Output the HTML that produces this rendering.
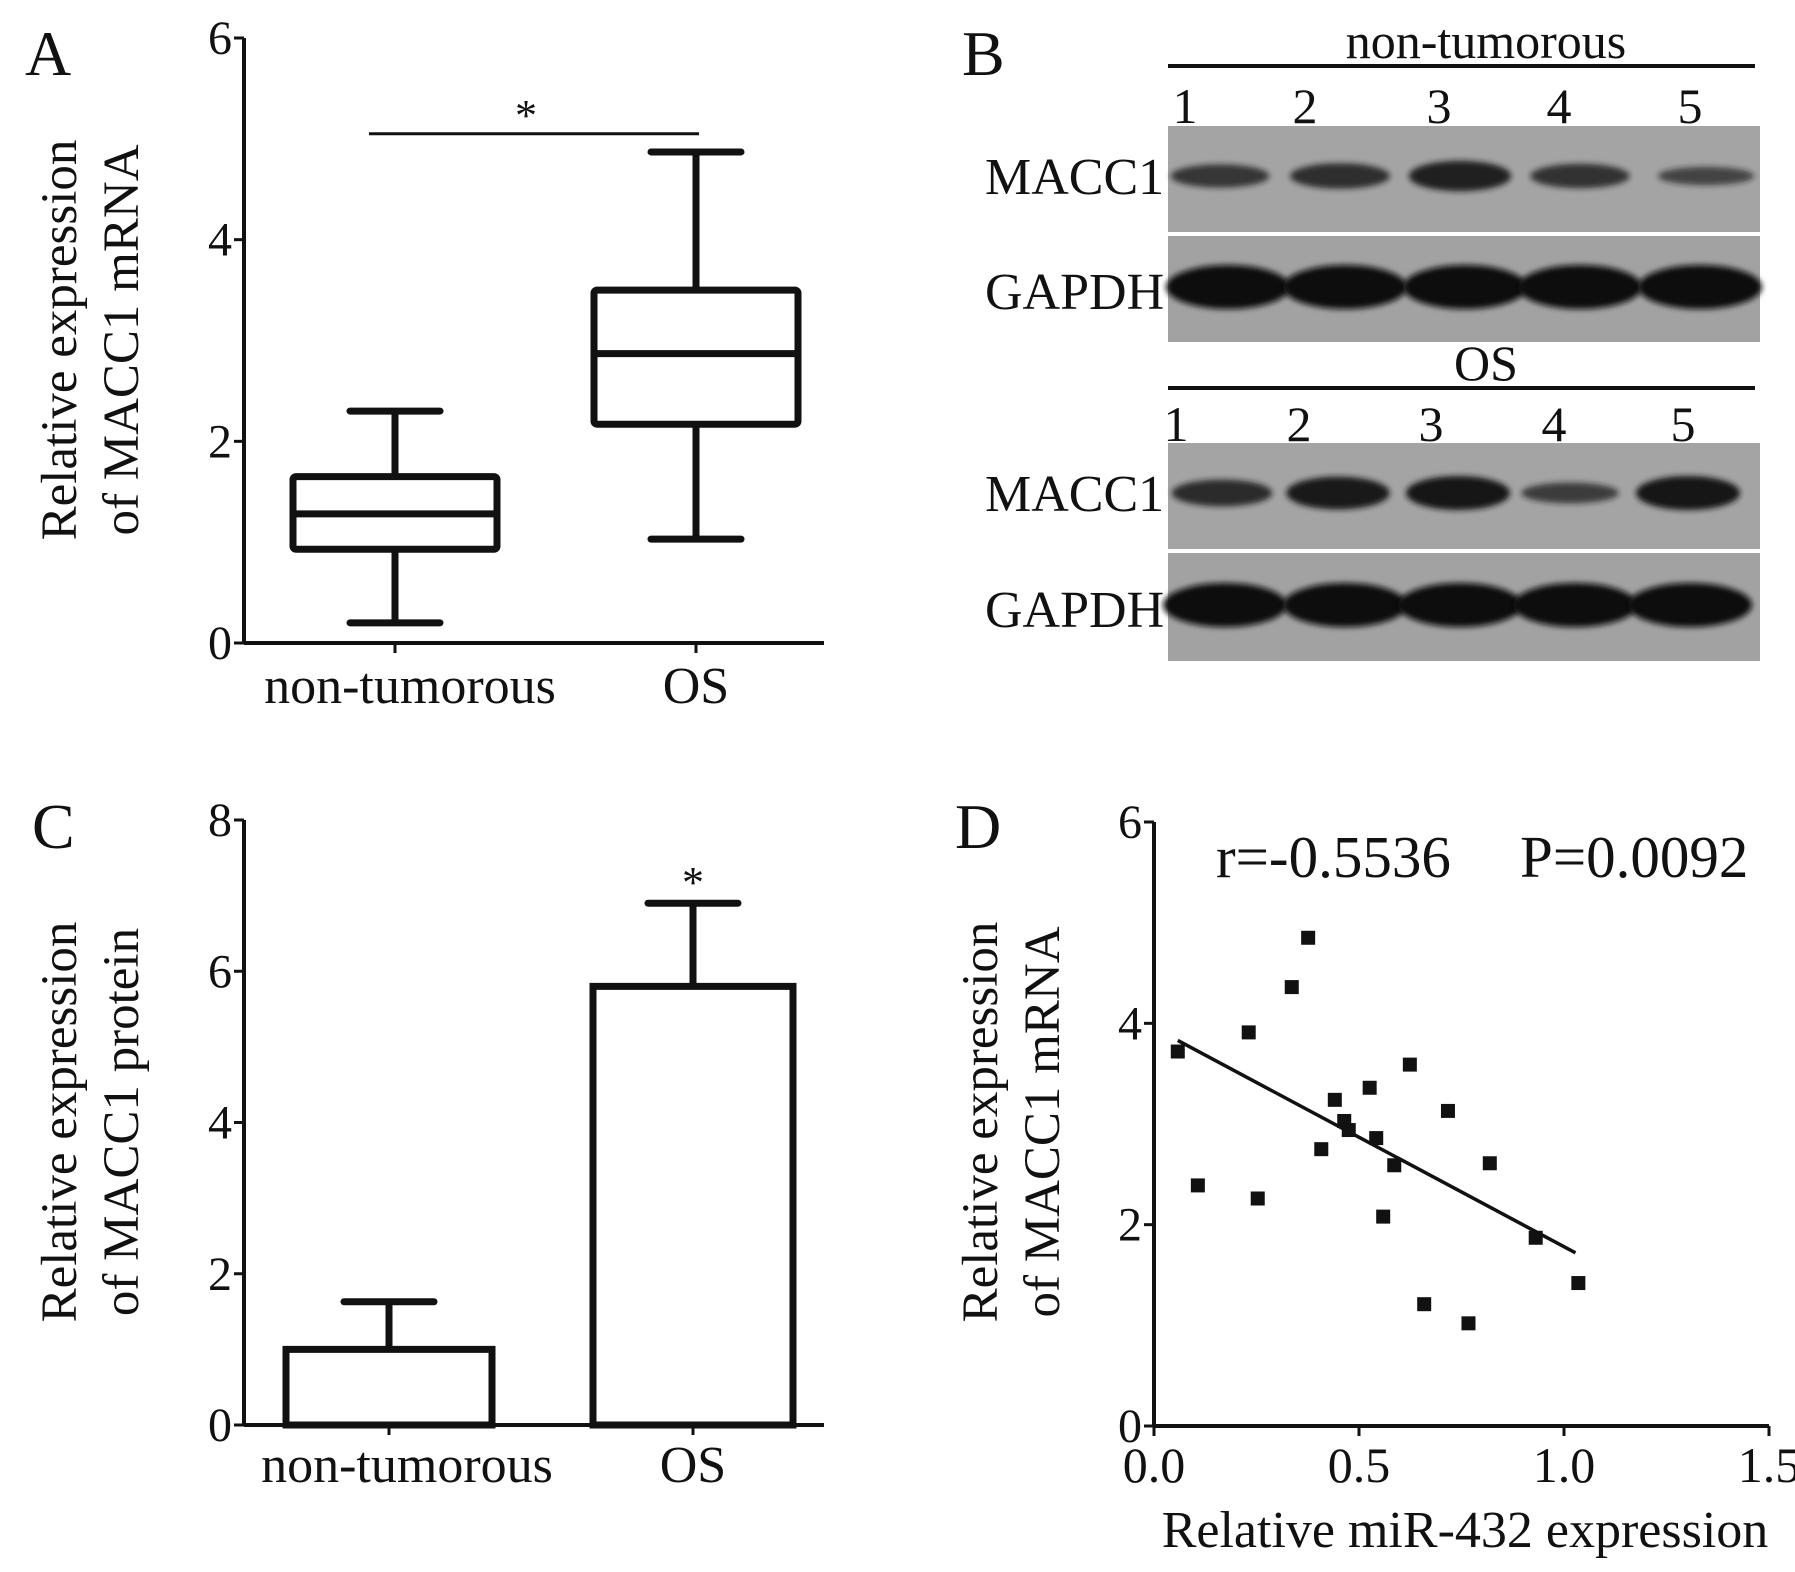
<!DOCTYPE html>
<html><head><meta charset="utf-8"><style>
html,body{margin:0;padding:0;background:#fff}
svg{display:block}
text{font-family:"Liberation Serif",serif;fill:#111}
</style></head><body>
<svg id="fig" width="1795" height="1572" viewBox="0 0 1795 1572">
<defs>
<filter id="blur" x="-20%" y="-50%" width="140%" height="200%"><feGaussianBlur stdDeviation="3"/></filter>
</defs>
<g id="panelA"></g>
<g id="panelB"></g>
<g id="panelC"></g>
<g id="panelD"></g>
</svg>
<script>
const NS='http://www.w3.org/2000/svg';
// Panel A data
const boxCategories=['non-tumorous','OS'];
const boxWhiskerLow=[0.2,1.03];
const boxQ1=[0.93,2.17];
const boxMedian=[1.28,2.87];
const boxQ3=[1.65,3.5];
const boxWhiskerHigh=[2.3,4.87];
const boxTicks=[0,2,4,6];
// Panel C data
const barCategories=['non-tumorous','OS'];
const barValues=[1.0,5.8];
const barErrors=[0.63,1.1];
const barTicks=[0,2,4,6,8];
// Panel D data
const scatterX=[0.058,0.107,0.231,0.253,0.336,0.376,0.408,0.441,0.464,0.475,0.526,0.542,0.559,0.586,0.624,0.659,0.717,0.767,0.819,0.931,1.035];
const scatterY=[3.72,2.39,3.91,2.26,4.36,4.85,2.75,3.24,3.03,2.94,3.36,2.86,2.08,2.59,3.59,1.21,3.13,1.02,2.61,1.87,1.42];
const fitX=[0.058,1.028];
const fitY=[3.83,1.72];
const scatterYTicks=[0,2,4,6];
const scatterXTicks=[0.0,0.5,1.0,1.5];
const scatterXLabels=['0.0','0.5','1.0','1.5'];
// Panel B data
const blotLanes=['1','2','3','4','5'];
const blotNonMacc=[0.55,0.65,0.85,0.6,0.35];
const blotOsMacc=[0.7,0.95,1.0,0.45,1.0];

function el(tag,attrs,parent,txt){const e=document.createElementNS(NS,tag);for(const k in attrs)e.setAttribute(k,attrs[k]);if(txt!==undefined)e.textContent=txt;parent.appendChild(e);return e;}
const K='#111';
const TF=48, CF=52, YF=51;

// ---------- Panel A ----------
(function(){
const g=document.getElementById('panelA');
const x0=244,yBase=643,yTop=38,xEnd=824;
const y=v=>yBase-(yBase-yTop)*v/6;
const cx=[395,696];
let t=el('text',{x:25,y:75,'font-size':64},g,'A');

el('line',{x1:x0,y1:yTop,x2:x0,y2:yBase,stroke:K,'stroke-width':4},g);
el('line',{x1:x0,y1:yBase,x2:xEnd,y2:yBase,stroke:K,'stroke-width':4},g);
boxTicks.forEach(v=>{el('line',{x1:x0-10,y1:y(v),x2:x0,y2:y(v),stroke:K,'stroke-width':3},g);
 const tt=el('text',{x:x0-12,y:y(v)+16,'font-size':TF,'text-anchor':'end'},g,String(v));
 });
boxCategories.forEach((c,i)=>{
 el('line',{x1:cx[i],y1:yBase,x2:cx[i],y2:yBase+10,stroke:K,'stroke-width':3},g);
 const tt=el('text',{x:cx[i]+(i?0:15),y:703,'font-size':CF,'text-anchor':'middle'},g,c);
 
 const bg=el('g',{},g);
 
 const hw=102,cw=45;
 el('line',{x1:cx[i],y1:y(boxWhiskerLow[i]),x2:cx[i],y2:y(boxWhiskerHigh[i]),stroke:K,'stroke-width':7},bg);
 el('line',{x1:cx[i]-cw,y1:y(boxWhiskerLow[i]),x2:cx[i]+cw,y2:y(boxWhiskerLow[i]),stroke:K,'stroke-width':7,'stroke-linecap':'round'},bg);
 el('line',{x1:cx[i]-cw,y1:y(boxWhiskerHigh[i]),x2:cx[i]+cw,y2:y(boxWhiskerHigh[i]),stroke:K,'stroke-width':7,'stroke-linecap':'round'},bg);
 el('rect',{x:cx[i]-hw,y:y(boxQ3[i]),width:2*hw,height:y(boxQ1[i])-y(boxQ3[i]),fill:'#fff',stroke:K,'stroke-width':7,rx:3},bg);
 el('line',{x1:cx[i]-hw,y1:y(boxMedian[i]),x2:cx[i]+hw,y2:y(boxMedian[i]),stroke:K,'stroke-width':7},bg);
});
el('line',{x1:369,y1:y(5.05),x2:699,y2:y(5.05),stroke:K,'stroke-width':3},g);
let s=el('text',{x:526,y:y(5.05)-4,'font-size':44,'text-anchor':'middle'},g,'*');

const yl=el('text',{transform:'translate(76,340) rotate(-90)','font-size':YF,'text-anchor':'middle'},g);

el('tspan',{x:0,y:0},yl,'Relative expression');el('tspan',{x:0,y:62},yl,'of MACC1 mRNA');
})();

// ---------- Panel C ----------
(function(){
const g=document.getElementById('panelC');
const x0=244,yBase=1425,yTop=820,xEnd=824;
const y=v=>yBase-(yBase-yTop)*v/8;
const cx=[389,693],hw=[103,100];
let t=el('text',{x:32,y:848,'font-size':64},g,'C');

el('line',{x1:x0,y1:yTop,x2:x0,y2:yBase,stroke:K,'stroke-width':4},g);
el('line',{x1:x0,y1:yBase,x2:xEnd,y2:yBase,stroke:K,'stroke-width':4},g);
barTicks.forEach(v=>{el('line',{x1:x0-10,y1:y(v),x2:x0,y2:y(v),stroke:K,'stroke-width':3},g);
 const tt=el('text',{x:x0-12,y:y(v)+16,'font-size':TF,'text-anchor':'end'},g,String(v));
 });
barCategories.forEach((c,i)=>{
 el('line',{x1:cx[i],y1:yBase,x2:cx[i],y2:yBase+10,stroke:K,'stroke-width':3},g);
 const tt=el('text',{x:cx[i]+(i?0:18),y:1482,'font-size':CF,'text-anchor':'middle'},g,c);
 
 const bg=el('g',{},g);
 
 const top=barValues[i]+barErrors[i];
 el('line',{x1:cx[i],y1:y(barValues[i]),x2:cx[i],y2:y(top),stroke:K,'stroke-width':7},bg);
 el('line',{x1:cx[i]-45,y1:y(top),x2:cx[i]+45,y2:y(top),stroke:K,'stroke-width':7,'stroke-linecap':'round'},bg);
 el('rect',{x:cx[i]-hw[i],y:y(barValues[i]),width:2*hw[i],height:yBase-y(barValues[i]),fill:'#fff',stroke:K,'stroke-width':7},bg);
});
let s=el('text',{x:693,y:y(6.9)-6,'font-size':44,'text-anchor':'middle'},g,'*');

const yl=el('text',{transform:'translate(76,1122) rotate(-90)','font-size':YF,'text-anchor':'middle'},g);

el('tspan',{x:0,y:0},yl,'Relative expression');el('tspan',{x:0,y:62},yl,'of MACC1 protein');
})();

// ---------- Panel D ----------
(function(){
const g=document.getElementById('panelD');
const x0=1154,x1=1769,yBase=1426,yTop=822;
const X=v=>x0+(x1-x0)*v/1.5, Y=v=>yBase-(yBase-yTop)*v/6;
let t=el('text',{x:955,y:848,'font-size':64},g,'D');

el('line',{x1:x0,y1:yTop,x2:x0,y2:yBase,stroke:K,'stroke-width':4},g);
el('line',{x1:x0,y1:yBase,x2:x1,y2:yBase,stroke:K,'stroke-width':4},g);
scatterYTicks.forEach(v=>{el('line',{x1:x0-10,y1:Y(v),x2:x0,y2:Y(v),stroke:K,'stroke-width':3},g);
 const tt=el('text',{x:x0-12,y:Y(v)+16,'font-size':TF,'text-anchor':'end'},g,String(v));
 });
scatterXTicks.forEach((v,i)=>{el('line',{x1:X(v),y1:yBase,x2:X(v),y2:yBase+10,stroke:K,'stroke-width':3},g);
 const tt=el('text',{x:X(v),y:1482,'font-size':50,'text-anchor':'middle'},g,scatterXLabels[i]);
 });
scatterX.forEach((v,i)=>{
 const r=el('rect',{x:X(v)-7,y:Y(scatterY[i])-7,width:14,height:14,fill:K},g);
 
 
});
const fl=el('line',{x1:X(fitX[0]),y1:Y(fitY[0]),x2:X(fitX[1]),y2:Y(fitY[1]),stroke:K,'stroke-width':3.5},g);

let a=el('text',{x:1216,y:877,'font-size':59},g,'r=-0.5536');

a=el('text',{x:1520,y:877,'font-size':59},g,'P=0.0092');

const yl=el('text',{transform:'translate(997,1122) rotate(-90)','font-size':YF,'text-anchor':'middle'},g);

el('tspan',{x:0,y:0},yl,'Relative expression');el('tspan',{x:0,y:62},yl,'of MACC1 mRNA');
a=el('text',{x:1465,y:1547,'font-size':52,'text-anchor':'middle'},g,'Relative miR-432 expression');

})();

// ---------- Panel B ----------
(function(){
const g=document.getElementById('panelB');
let t=el('text',{x:962,y:75,'font-size':64},g,'B');

function group(label,lineY,numY,numXs,maccTop,maccX,maccStrength,gTop,gX,gapH){
 let l=el('text',{x:1486,y:lineY-8,'font-size':50,'text-anchor':'middle'},g,label);
 
 el('line',{x1:1168,y1:lineY,x2:1755,y2:lineY,stroke:K,'stroke-width':4},g);
 blotLanes.forEach((n,i)=>{const tt=el('text',{x:numXs[i],y:numY,'font-size':50,'text-anchor':'middle'},g,n);
  });
 const m=el('rect',{x:1168,y:maccTop,width:592,height:106,fill:'#a4a4a4'},g);
 
 const gg=el('rect',{x:1168,y:gTop,width:592,height:gapH,fill:'#a2a2a2'},g);
 
 maccX.forEach((x,i)=>{const s=maccStrength[i];
  el('ellipse',{cx:x,cy:maccTop+50,rx:46+6*s,ry:5+12*s,fill:'#161616','fill-opacity':0.55+0.45*s,filter:'url(#blur)'},g);});
 gX.forEach(x=>{el('ellipse',{cx:x,cy:gTop+gapH/2-2,rx:62,ry:22,fill:'#111',filter:'url(#blur)'},g);});
 let ml=el('text',{x:985,y:maccTop+68,'font-size':52},g,'MACC1');
 
 ml=el('text',{x:985,y:gTop+gapH/2+20,'font-size':52},g,'GAPDH');
 
}
group('non-tumorous',66,123,[1185,1305,1439,1559,1690],126,[1220,1340,1460,1580,1706],blotNonMacc,236,[1228,1345,1465,1580,1700],106);
group('OS',388,441,[1176,1299,1431,1554,1683],443,[1222,1338,1458,1570,1688],blotOsMacc,553,[1225,1345,1460,1575,1690],108);
})();
</script>
</body></html>
